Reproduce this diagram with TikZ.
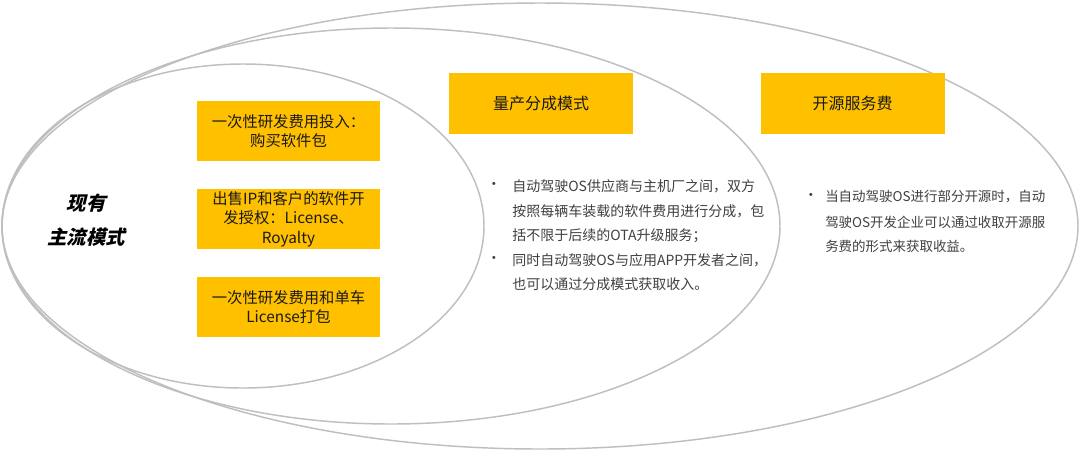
\documentclass[tikz,border=0pt]{standalone}
\usepackage{fontspec}
\setmainfont{Noto Sans CJK SC}
\newfontfamily\labfont{Noto Sans CJK SC}[BoldFeatures={FakeSlant=0.25}]
\definecolor{boxy}{HTML}{FFC000}
\definecolor{ringc}{HTML}{BFBFBF}
\definecolor{txtc}{HTML}{404040}
\definecolor{darkt}{HTML}{1A1A1A}
\begin{document}
\begin{tikzpicture}[x=0.75pt,y=-0.75pt,
  ring/.style={draw=ringc,line width=1.1pt},
  ybox/.style={fill=boxy,draw=none,minimum width=137.5pt,minimum height=45pt,inner sep=0pt,align=center,text=darkt,font=\fontsize{11.5pt}{14.5pt}\selectfont},
  hbox/.style={fill=boxy,draw=none,minimum width=138pt,minimum height=45.75pt,inner sep=0pt,text=darkt,font=\fontsize{12pt}{14pt}\selectfont},
  ltxt/.style={anchor=west,inner sep=0pt,text=txtc,font=\fontsize{10.5pt}{12pt}\selectfont},
  rtxt/.style={anchor=west,inner sep=0pt,text=txtc,font=\fontsize{10.1pt}{12pt}\selectfont},
  bul/.style={inner sep=0pt,text=txtc,font=\fontsize{11pt}{12pt}\selectfont}]
\useasboundingbox (0,0) rectangle (1080,451);
\fill[white] (0,0) rectangle (1080,451);
% ellipses
\draw[ring] (540,226) ellipse [x radius=403.5pt, y radius=167.25pt];
\draw[ring] (391,226) ellipse [x radius=291.75pt, y radius=148.5pt];
\draw[ring] (243,226) ellipse [x radius=180.75pt, y radius=121.5pt];
% label
\node[align=center,text=black,font=\fontsize{14.5pt}{25.5pt}\labfont\bfseries] (lab) at (86,220) {现有\\主流模式};
% left boxes
\node[ybox] (b1) at (288.5,131) {一次性研发费用投入：\\购买软件包};
\node[ybox] (b2) at (288.5,219) {出售IP和客户的软件开\\发授权：License、\\Royalty};
\node[ybox] (b3) at (288.5,307) {一次性研发费用和单车\\License打包};
% header boxes
\node[hbox] (h1) at (541,103.5) {量产分成模式};
\node[hbox] (h2) at (852.5,103.5) {开源服务费};
% left bullets
\node[bul] (p1) at (494,186) {•};
\node[ltxt] (l1) at (512,186) {自动驾驶OS供应商与主机厂之间，双方};
\node[ltxt] (l2) at (512,211) {按照每辆车装载的软件费用进行分成，包};
\node[ltxt] (l3) at (512,236) {括不限于后续的OTA升级服务；};
\node[bul] (p2) at (494,260) {•};
\node[ltxt] (l4) at (512,260) {同时自动驾驶OS与应用APP开发者之间，};
\node[ltxt] (l5) at (512,284) {也可以通过分成模式获取收入。};
% right bullets
\node[bul] (p3) at (811,197) {•};
\node[rtxt] (r1) at (825,197) {当自动驾驶OS进行部分开源时，自动};
\node[rtxt] (r2) at (825,222) {驾驶OS开发企业可以通过收取开源服};
\node[rtxt] (r3) at (825,246) {务费的形式来获取收益。};
\end{tikzpicture}
\end{document}
